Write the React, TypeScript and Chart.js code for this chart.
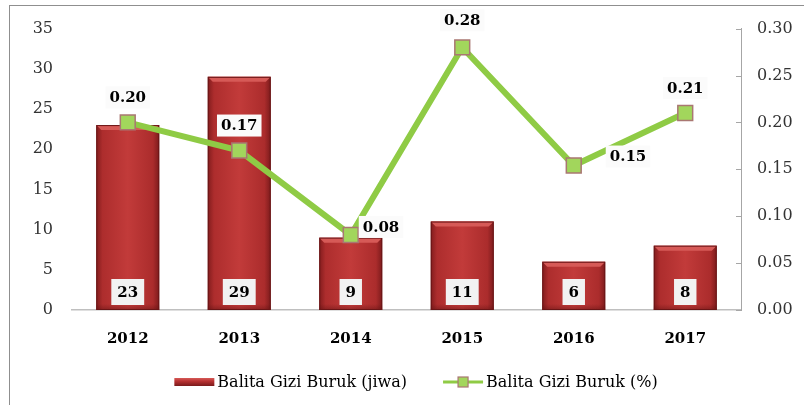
import React, { useEffect, useRef } from "react";
import { Chart, registerables } from "chart.js";

Chart.register(...registerables);

const years = ["2012", "2013", "2014", "2015", "2016", "2017"];
const jiwa = [23, 29, 9, 11, 6, 8];
const persen = [0.2, 0.17, 0.08, 0.28, 0.154, 0.21];
const barLabel = "Balita Gizi Buruk (jiwa)";
const lineLabel = "Balita Gizi Buruk (%)";

const FONT = "'DejaVu Serif', serif";
const BAR_PCT = 0.565;
const LINE_COLOR = "#8fcb45";
const MARK_FILL = "#a2d65c";
const MARK_BORDER = "#a97772";

// label placement style for line value labels
const lineLabelPlace = [
  { align: "center", dx: 0, dy: -25 },
  { align: "center", dx: 0, dy: -25 },
  { align: "left", dx: 12, dy: -8 },
  { align: "center", dx: 0, dy: -27 },
  { align: "left", dx: 36, dy: -9 },
  { align: "center", dx: 0, dy: -25 },
];

function barGradient(ctx: CanvasRenderingContext2D, x0: number, x1: number) {
  const g = ctx.createLinearGradient(x0, 0, x1, 0);
  g.addColorStop(0, "#821c1d");
  g.addColorStop(0.1, "#ad2d2d");
  g.addColorStop(0.5, "#c23b3a");
  g.addColorStop(0.9, "#ab2c2c");
  g.addColorStop(1, "#7c1b1c");
  return g;
}

const decoPlugin = {
  id: "deco",
  afterDatasetDraw(chart: any, args: any) {
    if (args.index !== 0) return;
    const ctx = chart.ctx;
    const meta = chart.getDatasetMeta(0);
    ctx.save();
    meta.data.forEach((el: any) => {
      const w = el.width;
      const l = el.x - w / 2;
      const r = el.x + w / 2;
      const t = el.y;
      const b = el.base;
      const bv = 5;
      // top bevel
      ctx.fillStyle = "#d65a57";
      ctx.beginPath();
      ctx.moveTo(l, t);
      ctx.lineTo(r, t);
      ctx.lineTo(r - bv, t + bv);
      ctx.lineTo(l + bv, t + bv);
      ctx.closePath();
      ctx.fill();
      // subtle bottom shade
      const g = ctx.createLinearGradient(0, b - 6, 0, b);
      g.addColorStop(0, "rgba(90,15,15,0)");
      g.addColorStop(1, "rgba(90,15,15,0.45)");
      ctx.fillStyle = g;
      ctx.fillRect(l, b - 6, w, 6);
      ctx.strokeStyle = "#6a1516";
      ctx.lineWidth = 1;
      ctx.strokeRect(l + 0.5, t + 0.5, w - 1, b - t - 1);
    });
    ctx.restore();
  },
  afterDatasetsDraw(chart: any) {
    const ctx = chart.ctx;
    ctx.save();
    ctx.font = `bold 15px ${FONT}`;
    ctx.textBaseline = "middle";
    ctx.fillStyle = "#000";
    // bar value labels
    const bm = chart.getDatasetMeta(0);
    bm.data.forEach((el: any, i: number) => {
      const txt = String(jiwa[i]);
      const tw = ctx.measureText(txt).width;
      const bw = tw + 12;
      const bh = 26;
      const cy = el.base - 18;
      ctx.fillStyle = "#f2f2f2";
      ctx.fillRect(el.x - bw / 2, cy - bh / 2, bw, bh);
      ctx.fillStyle = "#000";
      ctx.textAlign = "center";
      ctx.fillText(txt, el.x, cy + 1);
    });
    // line value labels
    const lm = chart.getDatasetMeta(1);
    lm.data.forEach((el: any, i: number) => {
      const txt = persen[i].toFixed(2);
      const p = lineLabelPlace[i];
      const tw = ctx.measureText(txt).width;
      const bw = tw + 8;
      const bh = 22;
      const cx = p.align === "center" ? el.x + p.dx : el.x + p.dx + tw / 2;
      const cy = el.y + p.dy;
      ctx.fillStyle = "#fbfbfb";
      ctx.fillRect(cx - bw / 2, cy - bh / 2, bw, bh);
      ctx.fillStyle = "#000";
      ctx.textAlign = "center";
      ctx.fillText(txt, cx, cy + 1);
    });
    // right axis inner ticks
    const y1 = chart.scales.y1;
    ctx.strokeStyle = "#a6a6a6";
    ctx.lineWidth = 1;
    y1.ticks.forEach((t: any) => {
      const y = Math.round(y1.getPixelForValue(t.value)) + 0.5;
      ctx.beginPath();
      ctx.moveTo(y1.left - 5, y);
      ctx.lineTo(y1.left, y);
      ctx.stroke();
    });
    ctx.restore();
  },
  afterDraw(chart: any) {
    const ctx = chart.ctx;
    ctx.save();
    ctx.font = `16px ${FONT}`;
    ctx.textBaseline = "middle";
    ctx.textAlign = "left";
    const sw = 40;
    const gap = 3;
    const itemGap = 36;
    const w1 = ctx.measureText(barLabel).width;
    const w2 = ctx.measureText(lineLabel).width;
    const total = sw + gap + w1 + itemGap + sw + gap + w2;
    const cy = 382;
    let x = chart.width / 2 + 14 - total / 2;
    // bar swatch
    const g = ctx.createLinearGradient(0, cy - 4, 0, cy + 4);
    g.addColorStop(0, "#d65a57");
    g.addColorStop(0.4, "#b83232");
    g.addColorStop(1, "#7a1a1b");
    ctx.fillStyle = g;
    ctx.fillRect(x, cy - 4, sw, 8);
    ctx.fillStyle = "#000";
    ctx.fillText(barLabel, x + sw + gap, cy + 1);
    x += sw + gap + w1 + itemGap;
    // line swatch
    ctx.strokeStyle = LINE_COLOR;
    ctx.lineWidth = 3;
    ctx.beginPath();
    ctx.moveTo(x, cy);
    ctx.lineTo(x + sw, cy);
    ctx.stroke();
    ctx.fillStyle = MARK_FILL;
    ctx.strokeStyle = MARK_BORDER;
    ctx.lineWidth = 1.2;
    ctx.fillRect(x + sw / 2 - 5, cy - 5, 10, 10);
    ctx.strokeRect(x + sw / 2 - 5, cy - 5, 10, 10);
    ctx.fillStyle = "#000";
    ctx.fillText(lineLabel, x + sw + gap, cy + 1);
    ctx.restore();
  },
};

export default function App() {
  const ref = useRef<HTMLCanvasElement | null>(null);
  useEffect(() => {
    if (!ref.current) return;
    const chart = new Chart(ref.current, {
      type: "bar",
      data: {
        labels: years,
        datasets: [
          {
            type: "bar",
            label: barLabel,
            data: jiwa,
            yAxisID: "y",
            order: 2,
            barPercentage: BAR_PCT,
            categoryPercentage: 1,
            borderWidth: 0,
            backgroundColor: (c: any) => {
              const chart = c.chart;
              const xs = chart.scales.x;
              if (!chart.chartArea || !xs || c.type !== "data") return "#b53030";
              const x = xs.getPixelForValue(c.dataIndex);
              const w = (xs.width / years.length) * BAR_PCT;
              return barGradient(chart.ctx, x - w / 2, x + w / 2);
            },
          } as any,
          {
            type: "line",
            label: lineLabel,
            data: persen,
            yAxisID: "y1",
            order: 1,
            borderColor: LINE_COLOR,
            borderWidth: 6,
            pointStyle: "rect",
            pointRadius: 10.5,
            pointBackgroundColor: MARK_FILL,
            pointBorderColor: MARK_BORDER,
            pointBorderWidth: 1.5,
            tension: 0,
          } as any,
        ],
      },
      options: {
        animation: false,
        responsive: true,
        maintainAspectRatio: false,
        layout: { padding: { top: 25, left: 10, right: 0, bottom: 35 } },
        plugins: {
          legend: { display: false },
          tooltip: { enabled: false },
        },
        scales: {
          x: {
            offset: true,
            grid: { display: false, drawTicks: false },
            border: { display: true, color: "#bfbfbf", width: 1.5 },
            ticks: {
              padding: 20,
              color: "#000",
              font: { family: FONT, size: 15, weight: "bold" },
            },
            afterFit: (s: any) => {
              s.height = 60;
            },
          },
          y: {
            position: "left",
            min: 0,
            max: 35,
            grid: { display: false, drawTicks: false },
            border: { display: false },
            ticks: {
              stepSize: 5,
              padding: 19,
              color: "#333",
              font: { family: FONT, size: 16 },
            },
            afterFit: (s: any) => {
              s.width = 62;
            },
          },
          y1: {
            position: "right",
            min: 0,
            max: 0.3,
            grid: { display: false, drawTicks: false },
            border: { display: true, color: "#a6a6a6", width: 1 },
            ticks: {
              stepSize: 0.05,
              padding: 16,
              color: "#333",
              font: { family: FONT, size: 16 },
              callback: (v: any) => Number(v).toFixed(2),
            },
            afterFit: (s: any) => {
              s.width = 63;
            },
          },
        },
      } as any,
      plugins: [decoPlugin],
    });
    return () => chart.destroy();
  }, []);
  return (
    <div style={{ position: "absolute", left: 0, top: 0, width: 804, height: 405, background: "#fff" }}>
      <canvas ref={ref} />
      <div
        style={{
          position: "absolute",
          left: 9,
          top: 5,
          right: 0,
          bottom: 0,
          borderLeft: "1.5px solid #8f8f8f",
          borderTop: "1.5px solid #8f8f8f",
          pointerEvents: "none",
        }}
      />
    </div>
  );
}
